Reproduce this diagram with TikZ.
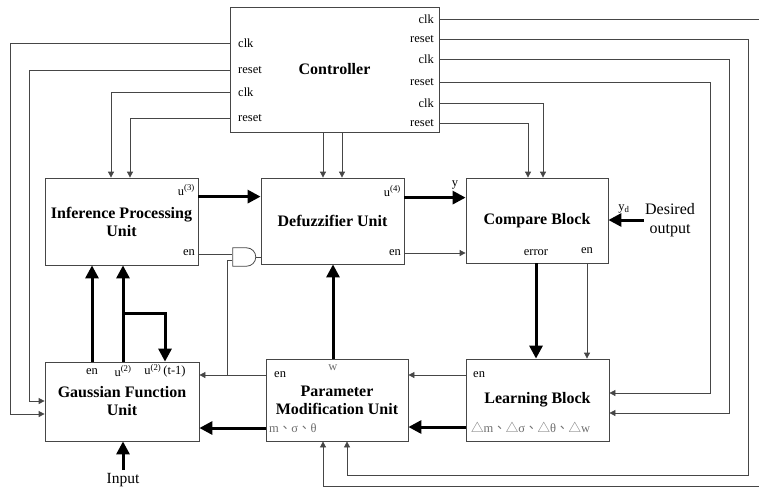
\documentclass[tikz,border=0pt]{standalone}
\usepackage{fontspec}
\setmainfont{Liberation Serif}
\newfontfamily\cjk{Noto Sans CJK TC}
\usetikzlibrary{arrows.meta, shapes.gates.logic.US}
\definecolor{wiregray}{RGB}{70,70,70}
\definecolor{textgray}{RGB}{110,110,110}
\newcommand{\dlt}{{\cjk △}}
\newcommand{\sepc}{{\cjk 、}}

\begin{document}
\begin{tikzpicture}[x=1pt, y=-1pt, >={Triangle[length=6pt,width=6pt]},
        block/.style={draw=wiregray, line width=0.8pt, align=center, inner sep=0pt,
                      font=\fontsize{16}{18}\selectfont\bfseries},
        lbl/.style={inner sep=1pt, font=\fontsize{12.5}{14}\selectfont},
        glbl/.style={lbl, text=textgray},
        wire/.style={draw=wiregray, line width=0.8pt},
        bus/.style={line width=3pt, -{Triangle[length=13pt,width=13pt]}}]

    \useasboundingbox (0,0) rectangle (759,488);

    % --- bloki ---
    \node[block, minimum width=209pt, minimum height=125pt] (ctrl) at (334.5,69.5) {Controller};
    \node[block, minimum width=153pt, minimum height=87pt] (ipu) at (121.5,221.5) {Inference Processing\\Unit};
    \node[block, minimum width=143pt, minimum height=86pt] (defz) at (332.5,221) {Defuzzifier Unit};
    \node[block, minimum width=142pt, minimum height=85pt] (cmp) at (537,220.5) {Compare Block};
    \node[block, minimum width=154pt, minimum height=79pt] (gfu) at (122,401.5) {Gaussian Function\\Unit};
    \node[block, minimum width=142pt, minimum height=82pt] (pmu) at (337,400) {Parameter\\Modification Unit};
    \node[block, minimum width=143pt, minimum height=82pt] (lrn) at (537.5,400) {Learning Block};

    % --- bramka AND ---
    \node[and gate US, draw=wiregray, line width=0.8pt, logic gate inputs=nn,
          minimum height=18pt, minimum width=23pt] (andg) at (243.5,257) {};

    % --- etykiety sterownika ---
    \node[lbl, anchor=west] (lclk1) at (237,43)  {clk};
    \node[lbl, anchor=west] (lrst1) at (237,70)  {reset};
    \node[lbl, anchor=west] (lclk2) at (237,92)  {clk};
    \node[lbl, anchor=west] (lrst2) at (237,118) {reset};
    \node[lbl, anchor=east] (rclk1) at (435,19)  {clk};
    \node[lbl, anchor=east] (rrst1) at (435,39)  {reset};
    \node[lbl, anchor=east] (rclk2) at (435,59)  {clk};
    \node[lbl, anchor=east] (rrst2) at (435,82)  {reset};
    \node[lbl, anchor=east] (rclk3) at (435,103) {clk};
    \node[lbl, anchor=east] (rrst3) at (435,123) {reset};

    % --- etykiety portow ---
    \node[lbl, anchor=east] (u3) at (196,190) {u\textsuperscript{(3)}};
    \node[lbl, anchor=east] (ipuen) at (196,253) {en};
    \node[lbl, anchor=east] (u4) at (402,191) {u\textsuperscript{(4)}};
    \node[lbl, anchor=east] (defen) at (402,253) {en};
    \node[lbl] (ylab) at (455,185) {y};
    \node[lbl] (yd) at (624,209) {y\textsubscript{d}};
    \node[lbl] (err) at (536,253) {error};
    \node[lbl] (cmpen) at (587,251) {en};
    \node[font=\fontsize{16}{19}\selectfont, align=center, inner sep=1pt] (des) at (670,220) {Desired\\output};
    \node[lbl] (gen) at (92,372) {en};
    \node[lbl] (gu2) at (123,371) {u\textsuperscript{(2)}};
    \node[lbl] (gut) at (165,371) {u\textsuperscript{(2)}\,(t-1)};
    \node[glbl] (pmuw) at (333,368) {w};
    \node[lbl, anchor=west] (pmuen) at (273,375) {en};
    \node[glbl, anchor=west] (pmupar) at (268,428) {m\sepc σ\sepc θ};
    \node[lbl, anchor=west] (lrnen) at (472,375) {en};
    \node[glbl, anchor=west] (lrnpar) at (470,427) {\dlt m\sepc\dlt σ\sepc\dlt θ\sepc\dlt w};
    \node[font=\fontsize{15.5}{17}\selectfont, inner sep=3pt] (inp) at (123,480) {Input};

    % --- punkty tras ---
    \coordinate (ra) at (10,414);
    \coordinate (rb) at (29,401);
    \coordinate (rd) at (770,486);
    \coordinate (re) at (748,475);
    \coordinate (rf) at (729,413);
    \coordinate (rg) at (710,393);
    \coordinate (br) at (123,313);

    % --- sterownik: wyjscia lewe ---
    \draw[wire, ->] (ctrl.west |- lclk1) -| (ra) -- (ra -| gfu.west);
    \draw[wire, ->] (ctrl.west |- lrst1) -| (rb) -- (rb -| gfu.west);
    \draw[wire, ->] (ctrl.west |- lclk2) -| ([xshift=-10.5pt]ipu.north);
    \draw[wire, ->] (ctrl.west |- lrst2) -| ([xshift=8.5pt]ipu.north);

    % --- sterownik: wyjscia dolne ---
    \draw[wire, ->] ([xshift=-9.5pt]defz.north |- ctrl.south) -- ([xshift=-9.5pt]defz.north);
    \draw[wire, ->] ([xshift=9.5pt]defz.north |- ctrl.south) -- ([xshift=9.5pt]defz.north);

    % --- sterownik: wyjscia prawe ---
    \draw[wire, ->] (ctrl.east |- rclk1) -| (rd) -| ([xshift=-14pt]pmu.south);
    \draw[wire, ->] (ctrl.east |- rrst1) -| (re) -| ([xshift=10pt]pmu.south);
    \draw[wire, ->] (ctrl.east |- rclk2) -| (rf) -- (rf -| lrn.east);
    \draw[wire, ->] (ctrl.east |- rrst2) -| (rg) -- (rg -| lrn.east);
    \draw[wire, ->] (ctrl.east |- rclk3) -| ([xshift=6pt]cmp.north);
    \draw[wire, ->] (ctrl.east |- rrst3) -| ([xshift=-9pt]cmp.north);

    % --- tor danych ---
    \draw[bus] ([yshift=-19pt]ipu.north east) -- ([yshift=-19pt]defz.north west);
    \draw[bus] ([yshift=-20pt]defz.north east) -- ([yshift=-20pt]cmp.north west);
    \draw[bus] (des.west) -- (cmp.east |- des.west);
    \draw[bus] (cmp.south -| err) -- (lrn.north -| err);
    \draw[bus] (pmu.north -| pmuw) -- (defz.south -| pmuw);
    \draw[bus] (lrn.west |- lrnpar) -- (pmu.east |- lrnpar);
    \draw[bus] (pmu.west |- pmupar) -- (gfu.east |- pmupar);
    \draw[bus] (gfu.north -| gen) -- (ipu.south -| gen);
    \draw[bus] (gfu.north -| gu2) -- (ipu.south -| gu2);
    \draw[bus] (br) -| (gfu.north -| gut);
    \draw[bus] (inp.north) -- (gfu.south -| inp.north);

    % --- sygnaly en ---
    \draw[wire, ->] (cmp.south -| cmpen) -- (lrn.north -| cmpen);
    \draw[wire, ->] (defz.east |- defen) -- (cmp.west |- defen);
    \draw[wire, ->] (lrn.west |- lrnen) -- (pmu.east |- lrnen);
    \draw[wire, ->] (pmu.west |- pmuen) -- (gfu.east |- pmuen);
    \draw[wire] (ipu.east |- andg.input 1) -- (andg.input 1);
    \draw[wire] (andg.output) -- (defz.west |- andg.output);
    \draw[wire] (andg.input 2) -- ++(-5,0) coordinate (k) -- (k |- pmuen);

\end{tikzpicture}
\end{document}
